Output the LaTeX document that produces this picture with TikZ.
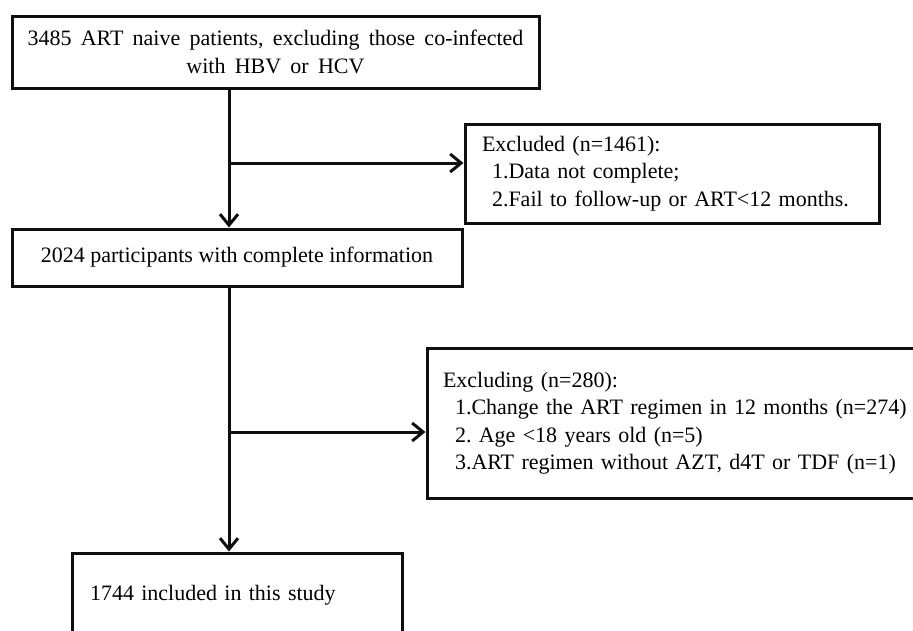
\documentclass[tikz,border=0pt]{standalone}
\usepackage{fontspec}
\setmainfont{Liberation Serif}
\usetikzlibrary{arrows.meta}
\usepackage{xcolor}
\definecolor{lineColor}{RGB}{15,15,15}
\newcommand{\flowfont}{\fontsize{22}{27.5}\selectfont\frenchspacing}
\newcommand{\flowwidefont}{\flowfont\spaceskip 0.42em\relax}

\begin{document}
\begin{tikzpicture}[
        x=1pt, y=-1pt,
        box/.style={draw=lineColor, line width=3pt, fill=white, font=\flowfont, inner sep=0pt},
        cbox/.style={box, align=center},
        lbox/.style={box, align=left},
        arr/.style={-{Straight Barb[length=11pt, width=18pt]}, line width=3pt, lineColor}
      ]
      \useasboundingbox (0,0) rectangle (913,630);
      \node[cbox, minimum width=527pt, minimum height=72pt, font=\flowwidefont] (all) at (275.5,52) {3485 ART naive patients, excluding those co-infected \\ with HBV or HCV};
      \node[lbox, text width=380pt, inner xsep=17pt, minimum height=99pt] (excla) at (672,173.5) {Excluded (n=1461): \\ \hspace*{10pt}1.Data not complete; \\ \hspace*{10pt}2.Fail to follow-up or ART<12 months.};
      \node[cbox, minimum width=450pt, minimum height=57pt] (compl) at (237,257.5) {2024 participants with complete information};
      \node[lbox, text width=468pt, inner xsep=16pt, minimum height=150pt] (exclb) at (677,423) {Excluding (n=280): \\ \hspace*{12pt}1.Change the ART regimen in 12 months (n=274) \\ \hspace*{12pt}2. Age <18 years old (n=5) \\ \hspace*{12pt}3.ART regimen without AZT, d4T or TDF (n=1)};
      \node[lbox, text width=294pt, inner xsep=18pt, minimum height=84pt] (incl) at (237,595) {1744 included in this study};

      \coordinate (spine) at (229,0);
      \coordinate (brA) at (229,163);
      \coordinate (brB) at (229,432);
      \draw[arr] (all.south -| spine) -- (compl.north -| spine);
      \draw[arr] (brA) -- (brA -| excla.west);
      \draw[arr] (compl.south -| spine) -- (incl.north -| spine);
      \draw[arr] (brB) -- (brB -| exclb.west);
    \end{tikzpicture}
\end{document}
